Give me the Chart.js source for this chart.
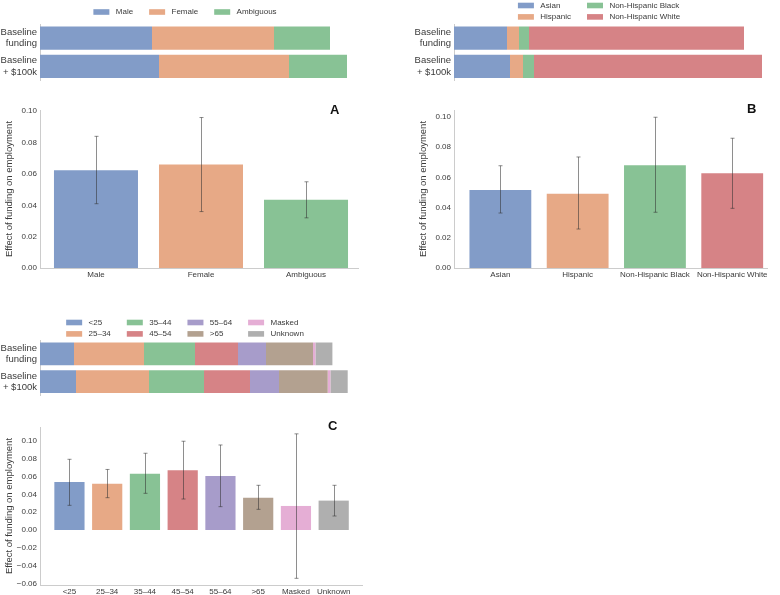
<!DOCTYPE html>
<html>
<head>
<meta charset="utf-8">
<script src="https://cdn.jsdelivr.net/npm/chart.js@4.4.1/dist/chart.umd.min.js"></script>
<style>
body { margin: 0; background: #fff; width: 780px; height: 595px; position: relative; overflow: hidden; }
.box { position: absolute; }
</style>
</head>
<body>
<div class="box" style="left:0;top:0;width:370px;height:95px"><canvas id="stackA"></canvas></div>
<div class="box" style="left:390px;top:0;width:390px;height:95px"><canvas id="stackB"></canvas></div>
<div class="box" style="left:0;top:100px;width:370px;height:185px"><canvas id="effectA"></canvas></div>
<div class="box" style="left:390px;top:100px;width:390px;height:185px"><canvas id="effectB"></canvas></div>
<div class="box" style="left:0;top:310px;width:370px;height:100px"><canvas id="stackC"></canvas></div>
<div class="box" style="left:0;top:415px;width:370px;height:180px"><canvas id="effectC"></canvas></div>
<script>
// DATA
const fundingRows = [['Baseline', 'funding'], ['Baseline', '+ $100k']];

const genderCats = ['Male', 'Female', 'Ambiguous'];
const genderBase = [112, 122, 56];
const genderPlus = [119, 130, 58];
const genderEffect = [0.0624, 0.0660, 0.0435];
const genderLow = [0.041, 0.036, 0.032];
const genderHigh = [0.084, 0.096, 0.055];

const raceCats = ['Asian', 'Hispanic', 'Non-Hispanic Black', 'Non-Hispanic White'];
const raceBase = [53, 12, 10, 215];
const racePlus = [56, 13, 11, 228];
const raceEffect = [0.0517, 0.0492, 0.0680, 0.0627];
const raceLow = [0.0364, 0.0258, 0.0369, 0.0395];
const raceHigh = [0.0677, 0.0735, 0.0998, 0.0859];

const ageCats = ['<25', '25–34', '35–44', '45–54', '55–64', '>65', 'Masked', 'Unknown'];
const ageBase = [34, 70, 51, 43, 28, 47, 2.4, 17];
const agePlus = [36, 73, 55, 46, 29, 48.7, 2.7, 17.3];
const ageEffect = [0.054, 0.052, 0.0633, 0.067, 0.0607, 0.0363, 0.027, 0.033];
const ageLow = [0.0277, 0.0363, 0.0412, 0.0348, 0.0262, 0.0232, -0.0543, 0.0157];
const ageHigh = [0.0794, 0.068, 0.0862, 0.0997, 0.0955, 0.0502, 0.108, 0.0502];

const effectTicks = [0, 0.02, 0.04, 0.06, 0.08, 0.10];
const ageEffectTicks = [-0.06, -0.04, -0.02, 0, 0.02, 0.04, 0.06, 0.08, 0.10];

// STYLE
const palette = ['#829CC8', '#E7A986', '#88C295', '#D68386', '#A79CCA', '#B3A190', '#E5AED5', '#AFAFAF'];
const ink = '#3a3a3a';
const spine = '#cccccc';
const family = '"Liberation Sans", Arial, sans-serif';
Chart.defaults.font.family = family;
Chart.defaults.color = ink;

// legend laid out in columns, filled top to bottom
const gridLegend = {
    id: 'gridLegend',
    afterDraw(chart, args, opts) {
        const ctx = chart.ctx;
        const sets = chart.data.datasets;
        const rows = opts.rows;
        const cols = Math.ceil(sets.length / rows);
        ctx.save();
        ctx.font = '8px ' + family;
        const widths = [];
        for (let c = 0; c < cols; c++) {
            let w = 0;
            for (let r = 0; r < rows; r++) {
                const ds = sets[c * rows + r];
                if (ds) w = Math.max(w, 22.4 + ctx.measureText(ds.label).width);
            }
            widths.push(w);
        }
        const total = widths.reduce((a, b) => a + b, 0) + 16 * (cols - 1);
        let x = opts.cx - total / 2;
        ctx.textBaseline = 'middle';
        for (let c = 0; c < cols; c++) {
            for (let r = 0; r < rows; r++) {
                const ds = sets[c * rows + r];
                if (!ds) continue;
                const y = opts.y + r * 11.4;
                ctx.fillStyle = ds.backgroundColor;
                ctx.fillRect(x, y - 2.8, 16, 5.6);
                ctx.fillStyle = ink;
                ctx.fillText(ds.label, x + 22.4, y);
            }
            x += widths[c] + 16;
        }
        ctx.restore();
    }
};

// ERROR BARS
const errorBars = {
    id: 'errorBars',
    afterDatasetsDraw(chart, args, opts) {
        const { ctx, scales: { x, y } } = chart;
        ctx.save();
        ctx.strokeStyle = 'rgba(50,50,50,0.55)';
        ctx.lineWidth = 1;
        opts.low.forEach((lo, i) => {
            const px = Math.round(x.getPixelForValue(i)) + 0.5;
            const y1 = y.getPixelForValue(lo);
            const y2 = y.getPixelForValue(opts.high[i]);
            ctx.beginPath();
            ctx.moveTo(px, y1); ctx.lineTo(px, y2);
            ctx.moveTo(px - 2, y1); ctx.lineTo(px + 2, y1);
            ctx.moveTo(px - 2, y2); ctx.lineTo(px + 2, y2);
            ctx.stroke();
        });
        ctx.restore();
    }
};

// PANEL LETTER
const panelTag = {
    id: 'panelTag',
    afterDraw(chart, args, opts) {
        const ctx = chart.ctx;
        ctx.save();
        ctx.font = 'bold 13px ' + family;
        ctx.fillStyle = '#111';
        ctx.textBaseline = 'alphabetic';
        ctx.fillText(opts.text, opts.x, opts.y);
        ctx.restore();
    }
};

function fmt(v) {
    return v < 0 ? '\u2212' + (-v).toFixed(2) : v.toFixed(2);
}

function stackChart(id, cats, base, plus, legend, pad) {
    return new Chart(document.getElementById(id), {
        type: 'bar',
        data: {
            labels: fundingRows,
            datasets: cats.map((c, i) => ({
                label: c,
                data: [base[i], plus[i]],
                backgroundColor: palette[i],
                barPercentage: 0.82,
                categoryPercentage: 1
            }))
        },
        options: {
            indexAxis: 'y',
            responsive: true,
            maintainAspectRatio: false,
            animation: false,
            layout: { padding: pad },
            plugins: { legend: { display: false }, tooltip: { enabled: false }, gridLegend: legend },
            scales: {
                x: { stacked: true, display: false, min: 0, max: 318 },
                y: {
                    stacked: true,
                    grid: { display: false, drawTicks: false },
                    border: { color: spine },
                    ticks: { color: ink, font: { size: 9.5 }, padding: 3 },
                    afterFit: s => { s.width = 40; }
                }
            }
        },
        plugins: [gridLegend]
    });
}

function effectChart(id, cats, effect, low, high, ticks, yRange, xRange, tag, pad, xH) {
    return new Chart(document.getElementById(id), {
        type: 'bar',
        data: {
            datasets: [{
                data: effect.map((v, i) => ({ x: i, y: v })),
                backgroundColor: palette.slice(0, cats.length),
                barPercentage: 0.8,
                categoryPercentage: 1
            }]
        },
        options: {
            responsive: true,
            maintainAspectRatio: false,
            animation: false,
            layout: { padding: pad },
            plugins: {
                legend: { display: false },
                tooltip: { enabled: false },
                errorBars: { low: low, high: high },
                panelTag: tag
            },
            scales: {
                x: {
                    type: 'linear',
                    offset: false,
                    min: xRange[0],
                    max: xRange[1],
                    grid: { display: false, drawTicks: false },
                    border: { color: spine },
                    ticks: { color: ink, font: { size: 8 }, padding: 2, autoSkip: false, maxRotation: 0,
                             callback: (v, i) => cats[i] },
                    afterBuildTicks: s => { s.ticks = cats.map((c, i) => ({ value: i })); },
                    afterFit: s => { s.height = xH; }
                },
                y: {
                    min: yRange[0],
                    max: yRange[1],
                    grid: { display: false, drawTicks: false },
                    border: { color: spine },
                    ticks: { color: ink, font: { size: 8 }, padding: 3, callback: v => fmt(v) },
                    afterBuildTicks: s => { s.ticks = ticks.map(v => ({ value: v })); },
                    afterFit: s => { s.width = 40; },
                    title: {
                        display: true,
                        text: 'Effect of funding on employment',
                        color: ink,
                        font: { size: 9.5 },
                        padding: { top: 4, bottom: 4 }
                    }
                }
            }
        },
        plugins: [errorBars, panelTag]
    });
}

// LOAD CHARTS
stackChart('stackA', genderCats, genderBase, genderPlus,
    { rows: 1, cx: 185, y: 12 }, { top: 24, right: 12, bottom: 7, left: 0 });
stackChart('stackB', raceCats, raceBase, racePlus,
    { rows: 2, cx: 209, y: 5.5 }, { top: 24, right: 8, bottom: 7, left: 24 });
stackChart('stackC', ageCats, ageBase, agePlus,
    { rows: 2, cx: 185, y: 12.5 }, { top: 30, right: 12, bottom: 6, left: 0 });

effectChart('effectA', genderCats, genderEffect, genderLow, genderHigh, effectTicks,
    [0, 0.1008], [-0.533, 2.495], { text: 'A', x: 330, y: 14 },
    { top: 10, right: 12, bottom: 0, left: 0 }, 17);
effectChart('effectB', raceCats, raceEffect, raceLow, raceHigh, effectTicks,
    [0, 0.1046], [-0.60, 3.45], { text: 'B', x: 357, y: 13 },
    { top: 10, right: 13, bottom: 0, left: 24 }, 17);
effectChart('effectC', ageCats, ageEffect, ageLow, ageHigh, ageEffectTicks,
    [-0.0618, 0.1157], [-0.78, 7.75], { text: 'C', x: 328, y: 15 },
    { top: 12, right: 8, bottom: 0, left: 0 }, 10);
</script>
</body>
</html>
